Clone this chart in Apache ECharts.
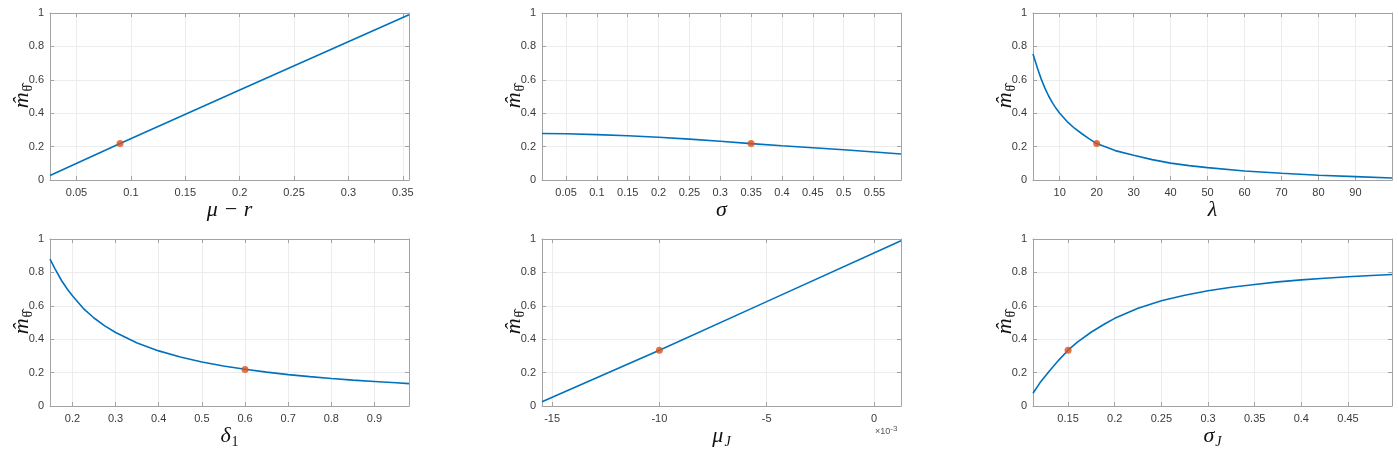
<!DOCTYPE html>
<html><head><meta charset="utf-8">
<script src="https://cdn.jsdelivr.net/npm/echarts@6/dist/echarts.min.js"></script>
<style>html,body{margin:0;padding:0;background:#fff}#c{width:1398px;height:453px}</style>
</head><body><div id="c"></div>
<script>
// ---------- data ----------
// Panel 1: mu - r
const muR_x = [0.0256, 0.09, 0.2, 0.3557];
const muR_y = [0.027, 0.218, 0.539, 0.99];
const muR_dot = [0.09, 0.218];
const muR_range = [0.0256, 0.3557];
const muR_ticks = [0.05, 0.1, 0.15, 0.2, 0.25, 0.3, 0.35];

// Panel 2: sigma
const sig_x = [0.011, 0.05, 0.1, 0.15, 0.2, 0.25, 0.3, 0.35, 0.4, 0.45, 0.5, 0.55, 0.593];
const sig_y = [0.278, 0.277, 0.272, 0.265, 0.256, 0.245, 0.232, 0.218, 0.205, 0.193, 0.181, 0.168, 0.156];
const sig_dot = [0.35, 0.218];
const sig_range = [0.011, 0.593];
const sig_ticks = [0.05, 0.1, 0.15, 0.2, 0.25, 0.3, 0.35, 0.4, 0.45, 0.5, 0.55];

// Panel 3: lambda
const lam_x = [2.77, 4, 5, 6, 7, 8, 9, 10, 12, 14, 16, 18, 20, 25, 30, 35, 40, 45, 50, 60, 70, 80, 90, 99.9];
const lam_y = [0.755, 0.668, 0.604, 0.55, 0.503, 0.463, 0.429, 0.40, 0.35, 0.31, 0.277, 0.246, 0.218, 0.176, 0.148, 0.122, 0.101, 0.086, 0.074, 0.054, 0.04, 0.028, 0.02, 0.012];
const lam_dot = [20, 0.218];
const lam_range = [2.77, 99.9];
const lam_ticks = [10, 20, 30, 40, 50, 60, 70, 80, 90];

// Panel 4: delta_1
const del_x = [0.148, 0.16, 0.175, 0.19, 0.2, 0.225, 0.25, 0.275, 0.3, 0.35, 0.4, 0.45, 0.5, 0.55, 0.6, 0.65, 0.7, 0.75, 0.8, 0.85, 0.9, 0.95, 0.98];
const del_y = [0.88, 0.82, 0.75, 0.693, 0.66, 0.585, 0.527, 0.48, 0.44, 0.377, 0.33, 0.293, 0.264, 0.24, 0.22, 0.203, 0.188, 0.176, 0.165, 0.155, 0.147, 0.139, 0.134];
const del_dot = [0.6, 0.218];
const del_range = [0.148, 0.98];
const del_ticks = [0.2, 0.3, 0.4, 0.5, 0.6, 0.7, 0.8, 0.9];

// Panel 5: mu_J (x 10^-3)
const muJ_x = [-15.47, -10, -5, 1.26];
const muJ_y = [0.026, 0.334, 0.625, 0.99];
const muJ_dot = [-10, 0.334];
const muJ_range = [-15.47, 1.26];
const muJ_ticks = [-15, -10, -5, 0];

// Panel 6: sigma_J
const sJ_x = [0.1124, 0.12, 0.13, 0.14, 0.15, 0.16, 0.175, 0.19, 0.2, 0.225, 0.25, 0.275, 0.3, 0.325, 0.35, 0.375, 0.4, 0.425, 0.45, 0.475, 0.4972];
const sJ_y = [0.076, 0.14, 0.21, 0.275, 0.334, 0.382, 0.443, 0.494, 0.525, 0.585, 0.63, 0.663, 0.69, 0.711, 0.728, 0.743, 0.755, 0.765, 0.774, 0.781, 0.787];
const sJ_dot = [0.15, 0.334];
const sJ_range = [0.1124, 0.4972];
const sJ_ticks = [0.15, 0.2, 0.25, 0.3, 0.35, 0.4, 0.45];

const yTicks = [0, 0.2, 0.4, 0.6, 0.8, 1];

// ---------- chart ----------
const panels = [
  {x: muR_x, y: muR_y, dot: muR_dot, r: muR_range, t: muR_ticks, name: '{i|μ − r}'},
  {x: sig_x, y: sig_y, dot: sig_dot, r: sig_range, t: sig_ticks, name: '{i|σ}'},
  {x: lam_x, y: lam_y, dot: lam_dot, r: lam_range, t: lam_ticks, name: '{i|λ}'},
  {x: del_x, y: del_y, dot: del_dot, r: del_range, t: del_ticks, name: '{i|δ}{sub|1}'},
  {x: muJ_x, y: muJ_y, dot: muJ_dot, r: muJ_range, t: muJ_ticks, name: '{i|μ}{subi|J}'},
  {x: sJ_x, y: sJ_y, dot: sJ_dot, r: sJ_range, t: sJ_ticks, name: '{i|σ}{subi|J}'}
];

const lefts = [50, 542, 1033], tops = [13, 239];
const GW = 359, GH = 167;
const axisCol = '#a3a3a3', gridCol = '#ececec', labCol = '#3a3a3a';
const rich = {
  i: {fontFamily: 'Liberation Serif', fontStyle: 'italic', fontSize: 22, color: '#111', lineHeight: 26},
  sub: {fontFamily: 'Liberation Serif', fontSize: 14, color: '#111', verticalAlign: 'bottom', lineHeight: 14, padding: [8, 0, 0, 1]},
  subi: {fontFamily: 'Liberation Serif', fontStyle: 'italic', fontSize: 14, color: '#111', verticalAlign: 'bottom', lineHeight: 14, padding: [8, 0, 0, 1]},
  subt: {fontFamily: 'Liberation Serif', fontStyle: 'normal', fontSize: 14, color: '#111', verticalAlign: 'bottom', lineHeight: 18, padding: [8, 0, 0, 1]}
};
const fmt = v => String(+(+v).toFixed(4));

const grid = [], xAxis = [], yAxis = [], series = [];
panels.forEach((p, k) => {
  const col = k % 3, row = Math.floor(k / 3);
  grid.push({left: lefts[col], top: tops[row], width: GW, height: GH, show: false});
  const xi = xAxis.length, yi = yAxis.length;
  xAxis.push({
    gridIndex: k, type: 'value', min: p.r[0], max: p.r[1], position: 'bottom',
    axisLine: {show: true, onZero: false, lineStyle: {color: axisCol}},
    axisTick: {show: true, inside: true, length: 4, customValues: p.t, lineStyle: {color: axisCol}},
    axisLabel: {customValues: p.t, color: labCol, fontSize: 11, fontFamily: 'Liberation Sans', margin: 7, formatter: fmt},
    splitLine: {show: true, lineStyle: {color: gridCol}},
    name: p.name, nameLocation: 'middle', nameGap: 17,
    nameTextStyle: {rich: rich}
  });
  xAxis.push({
    gridIndex: k, type: 'value', min: p.r[0], max: p.r[1], position: 'top',
    axisLine: {show: true, onZero: false, lineStyle: {color: axisCol}},
    axisTick: {show: true, inside: true, length: 4, customValues: p.t, lineStyle: {color: axisCol}},
    axisLabel: {show: false}, splitLine: {show: false}
  });
  yAxis.push({
    gridIndex: k, type: 'value', min: 0, max: 1, interval: 0.2, position: 'left',
    axisLine: {show: true, onZero: false, lineStyle: {color: axisCol}},
    axisTick: {show: true, inside: true, length: 4, lineStyle: {color: axisCol}},
    axisLabel: {color: labCol, fontSize: 11, fontFamily: 'Liberation Sans', margin: 6, formatter: fmt},
    splitLine: {show: true, lineStyle: {color: gridCol}},
    name: '{i|m̂}{subt|θ̂}', nameLocation: 'middle', nameGap: 15, nameRotate: 90,
    nameMoveOverlap: false,
    nameTextStyle: {rich: rich}
  });
  yAxis.push({
    gridIndex: k, type: 'value', min: 0, max: 1, interval: 0.2, position: 'right',
    axisLine: {show: true, onZero: false, lineStyle: {color: axisCol}},
    axisTick: {show: true, inside: true, length: 4, lineStyle: {color: axisCol}},
    axisLabel: {show: false}, splitLine: {show: false}
  });
  series.push({
    type: 'line', xAxisIndex: xi, yAxisIndex: yi,
    data: p.x.map((v, j) => [v, p.y[j]]),
    showSymbol: false, smooth: false,
    lineStyle: {color: '#0072BD', width: 1.6}, itemStyle: {color: '#0072BD'},
    silent: true, animation: false, z: 3
  });
  series.push({
    type: 'scatter', xAxisIndex: xi, yAxisIndex: yi,
    data: [p.dot], symbol: 'circle', symbolSize: 7,
    itemStyle: {color: '#D95319'}, animation: false, z: 5
  });
});

const chart = echarts.init(document.getElementById('c'), null, {renderer: 'canvas'});
chart.setOption({
  backgroundColor: '#fff', animation: false,
  grid, xAxis, yAxis, series,
  graphic: [{
    type: 'text', left: 875, top: 425,
    style: {text: '×10{sup|-3}', fill: '#555', font: '9px Liberation Sans',
      rich: {sup: {fontSize: 8, fill: '#555', verticalAlign: 'top', padding: [0, 0, 5, 0]}}}
  }]
});
</script></body></html>
